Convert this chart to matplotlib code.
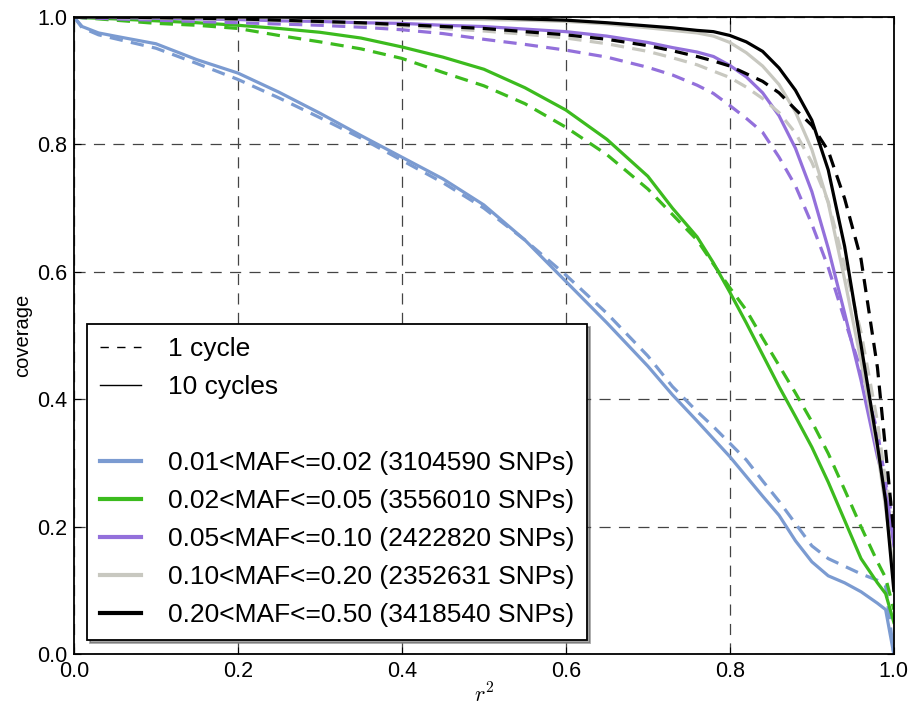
import numpy as np
import matplotlib
matplotlib.use("Agg")
import matplotlib.pyplot as plt
from matplotlib.lines import Line2D

plt.rcParams['font.family'] = ['Liberation Sans', 'DejaVu Sans']
plt.rcParams['mathtext.fontset'] = 'cm'
plt.rcParams['lines.scale_dashes'] = False

# r^2 sample positions (shared by all curves)
r2 = [0.0, 0.01, 0.03, 0.05, 0.1, 0.15, 0.2, 0.25, 0.3, 0.35, 0.4, 0.45, 0.5, 0.55,
      0.6, 0.65, 0.7, 0.73, 0.76, 0.78, 0.8, 0.82, 0.84, 0.86, 0.88, 0.9, 0.92,
      0.94, 0.96, 0.98, 0.99, 1.0]

# coverage after 1 cycle (dashed) / 10 cycles (solid), one pair per MAF bin
maf01_1 = [1.0, 0.983, 0.972, 0.966, 0.951, 0.927, 0.902, 0.873, 0.842, 0.81, 0.775, 0.74,
           0.70, 0.65, 0.595, 0.535, 0.468, 0.42, 0.381, 0.357, 0.331, 0.305, 0.272, 0.24,
           0.205, 0.17, 0.15, 0.138, 0.126, 0.116, 0.107, 0.0]
maf01_10 = [1.0, 0.985, 0.975, 0.970, 0.958, 0.933, 0.912, 0.882, 0.849, 0.814, 0.78, 0.746,
            0.705, 0.65, 0.585, 0.52, 0.452, 0.407, 0.366, 0.338, 0.31, 0.279, 0.248, 0.218,
            0.178, 0.145, 0.123, 0.112, 0.098, 0.08, 0.07, 0.0]
maf02_1 = [1.0, 0.999, 0.997, 0.995, 0.99, 0.987, 0.982, 0.971, 0.961, 0.95, 0.935, 0.913,
           0.892, 0.864, 0.827, 0.784, 0.73, 0.69, 0.65, 0.612, 0.575, 0.54, 0.496, 0.453,
           0.41, 0.365, 0.315, 0.258, 0.2, 0.145, 0.12, 0.07]
maf02_10 = [1.0, 0.999, 0.998, 0.997, 0.994, 0.991, 0.987, 0.982, 0.976, 0.967, 0.953, 0.937,
            0.918, 0.889, 0.854, 0.808, 0.75, 0.70, 0.655, 0.614, 0.568, 0.52, 0.47, 0.42,
            0.373, 0.325, 0.27, 0.21, 0.15, 0.112, 0.095, 0.05]
maf05_1 = [1.0, 0.999, 0.998, 0.997, 0.995, 0.993, 0.991, 0.989, 0.987, 0.984, 0.98, 0.974,
           0.965, 0.957, 0.948, 0.937, 0.921, 0.909, 0.893, 0.88, 0.861, 0.841, 0.819, 0.78,
           0.735, 0.675, 0.607, 0.525, 0.445, 0.35, 0.27, 0.2]
maf05_10 = [1.0, 1.0, 1.0, 0.999, 0.998, 0.997, 0.996, 0.994, 0.993, 0.991, 0.99, 0.987,
            0.985, 0.981, 0.977, 0.970, 0.96, 0.952, 0.945, 0.938, 0.924, 0.906, 0.881, 0.845,
            0.794, 0.726, 0.637, 0.535, 0.43, 0.31, 0.262, 0.17]
maf10_1 = [1.0, 1.0, 1.0, 0.999, 0.998, 0.997, 0.996, 0.994, 0.992, 0.989, 0.986, 0.982,
           0.978, 0.973, 0.967, 0.958, 0.946, 0.936, 0.925, 0.915, 0.905, 0.89, 0.872, 0.85,
           0.818, 0.772, 0.71, 0.61, 0.505, 0.365, 0.27, 0.22]
maf10_10 = [1.0, 1.0, 1.0, 1.0, 1.0, 0.999, 0.999, 0.999, 0.998, 0.998, 0.997, 0.997,
            0.996, 0.995, 0.993, 0.989, 0.983, 0.979, 0.975, 0.970, 0.96, 0.944, 0.923, 0.894,
            0.851, 0.792, 0.708, 0.588, 0.46, 0.32, 0.23, 0.13]
maf20_1 = [1.0, 1.0, 1.0, 1.0, 0.999, 0.998, 0.997, 0.995, 0.993, 0.991, 0.988, 0.985,
           0.982, 0.977, 0.972, 0.965, 0.955, 0.947, 0.938, 0.931, 0.923, 0.911, 0.899, 0.881,
           0.855, 0.83, 0.79, 0.715, 0.62, 0.45, 0.32, 0.19]
maf20_10 = [1.0, 1.0, 1.0, 1.0, 1.0, 1.0, 1.0, 1.0, 0.999, 0.999, 0.999, 0.999,
            0.999, 0.997, 0.995, 0.991, 0.986, 0.983, 0.979, 0.977, 0.971, 0.961, 0.946, 0.920,
            0.885, 0.838, 0.76, 0.64, 0.485, 0.328, 0.24, 0.10]

labels = ['0.01<MAF<=0.02 (3104590 SNPs)',
          '0.02<MAF<=0.05 (3556010 SNPs)',
          '0.05<MAF<=0.10 (2422820 SNPs)',
          '0.10<MAF<=0.20 (2352631 SNPs)',
          '0.20<MAF<=0.50 (3418540 SNPs)']
colors = ['#7b9bd1', '#3cbb1e', '#9370db', '#c8c8c0', '#000000']
one_cycle = [maf01_1, maf02_1, maf05_1, maf10_1, maf20_1]
ten_cycles = [maf01_10, maf02_10, maf05_10, maf10_10, maf20_10]

fig = plt.figure(figsize=(9.13, 7.08), dpi=100)
ax = fig.add_axes([0.081, 0.076, 0.898, 0.9])

dash = (0, (9.5, 6))
for c, y1, y10 in zip(colors, one_cycle, ten_cycles):
    ax.plot(r2, y1, color=c, lw=2.3, linestyle=dash)
    ax.plot(r2, y10, color=c, lw=2.3)

ax.set_xlim(0, 1)
ax.set_ylim(0, 1)
ax.set_xticks(np.arange(0, 1.01, 0.2))
ax.set_yticks(np.arange(0, 1.01, 0.2))
ax.grid(True, color='#444444', linestyle=(0, (8, 6)), lw=0.9)
ax.tick_params(direction='in', top=True, right=True, labelsize=15.5, length=5, pad=5)
for s in ax.spines.values():
    s.set_linewidth(1.3)
ax.set_xlabel('$r^2$', fontsize=16, labelpad=1)
ax.set_ylabel('coverage', fontsize=14.5, labelpad=3)

handles = [Line2D([], [], color='k', lw=1, linestyle=(0, (6, 6))),
           Line2D([], [], color='k', lw=1),
           Line2D([], [], color='none')]
names = ['1 cycle', '10 cycles', ' ']
for c, l in zip(colors, labels):
    handles.append(Line2D([], [], color=c, lw=3))
    names.append(l)

leg = ax.legend(handles, names, loc='lower left', fontsize=19, frameon=True,
                fancybox=False, shadow=True, handlelength=1.55, handletextpad=1.0,
                labelspacing=0.53, borderpad=0.5, borderaxespad=0,
                bbox_to_anchor=(0.016, 0.022))
leg.get_frame().set_edgecolor('black')
leg.get_frame().set_linewidth(1.3)

fig.savefig('out.png', dpi=100)
